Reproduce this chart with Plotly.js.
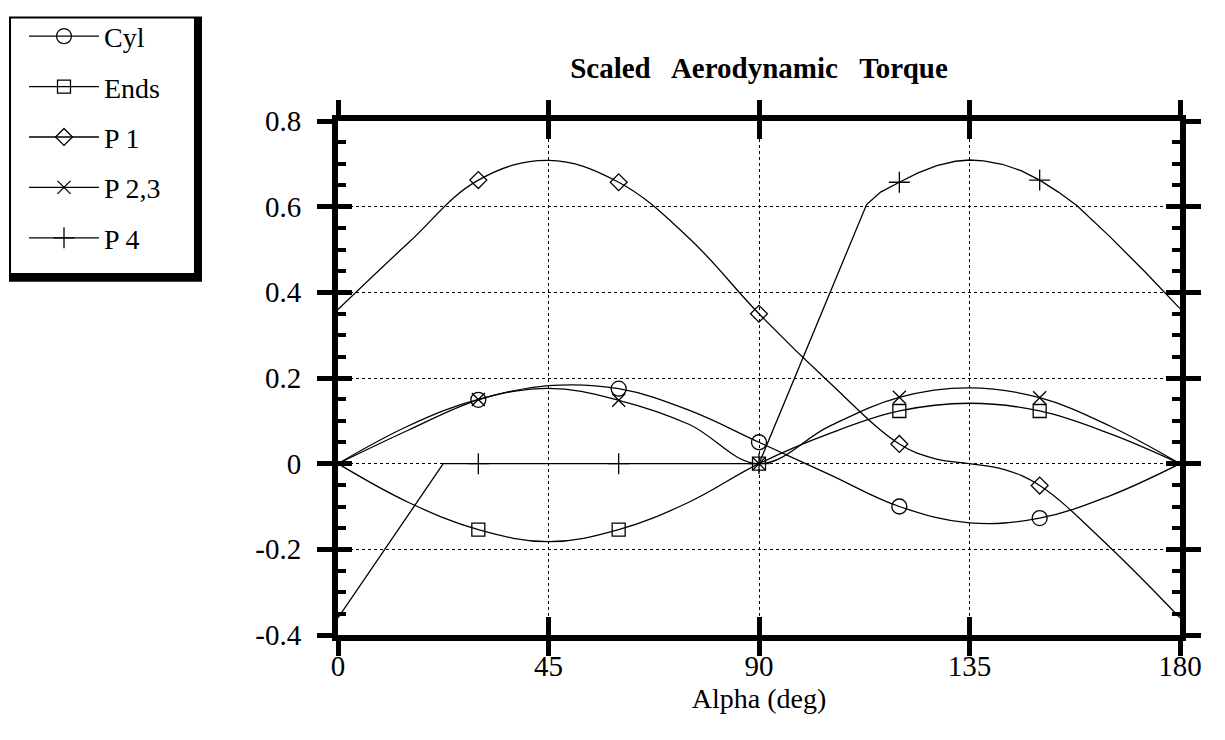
<!DOCTYPE html>
<html><head><meta charset="utf-8">
<script src="https://cdn.plot.ly/plotly-3.0.1.min.js"></script>
<style>html,body{margin:0;padding:0;background:#fff}</style>
</head><body><div id="chart" style="width:1225px;height:740px"></div>
<script>
// ---- data ----
const alphaStd = [0, 15, 30, 45, 60, 75, 90, 105, 120, 135, 150, 165, 180];
const cyl  = [0, 0.078, 0.149, 0.182, 0.175, 0.125, 0.05, -0.025, -0.100, -0.138, -0.127, -0.075, 0];
const ends = [0, -0.09, -0.154, -0.182, -0.154, -0.09, 0, 0.07, 0.123, 0.141, 0.123, 0.07, 0];
const p23  = [0, 0.088, 0.150, 0.176, 0.148, 0.092, 0, 0.087, 0.155, 0.177, 0.154, 0.088, 0];
const alphaP1 = [0, 15, 30, 45, 60, 75, 90, 105, 120, 127.5, 135, 142.5, 150, 165, 180];
const p1   = [0.36, 0.515, 0.662, 0.708, 0.657, 0.527, 0.35, 0.19, 0.046, 0.012, 0, -0.014, -0.051, -0.195, -0.36];
const alphaP4 = [0, 22.5, 30, 60, 90, 113, 116, 120, 124, 128, 132, 135, 138, 142, 146, 150, 154, 158, 165, 172.5, 180];
const p4   = [-0.36, 0, 0, 0, 0, 0.605, 0.634, 0.657, 0.679, 0.696, 0.706, 0.709, 0.707, 0.699, 0.684, 0.662, 0.634, 0.602, 0.53, 0.448, 0.362];
const seriesNames = ['Cyl', 'Ends', 'P 1', 'P 2,3', 'P 4'];
const xTicks = [0, 45, 90, 135, 180];
const yTicks = [-0.4, -0.2, 0, 0.2, 0.4, 0.6, 0.8];
const yTickText = ['-0.4', '-0.2', '0', '0.2', '0.4', '0.6', '0.8'];
const yMinorStep = 0.05;

// ---- layout geometry ----
const W = 1225, H = 740;
const M = {l: 338, r: 45, t: 114, b: 105};
const pw = W - M.l - M.r, ph = H - M.t - M.b;
const px2x = px => (px - M.l) / pw;
const py2y = py => (H - M.b - py) / ph;
const FONT = 'Liberation Serif, Times New Roman, serif';

// marker only at every 30 deg (excluding the ends)
const markIdx = xs => xs.map((a, i) => (a % 30 === 0 && a > 0 && a < 180) ? i : -1).filter(i => i >= 0);

function mk(name, xs, ys, symbol, size, shape) {
  return {
    type: 'scatter', mode: 'lines+markers', name: name, x: xs, y: ys,
    legendgroup: name,
    line: {color: '#000', width: 1.3, shape: shape, smoothing: 1.1},
    marker: {symbol: symbol, size: size, color: '#000', line: {color: '#000', width: 1.3}},
    selectedpoints: markIdx(xs),
    selected: {marker: {opacity: 1}},
    unselected: {marker: {opacity: 0}},
    hoverinfo: 'x+y+name'
  };
}

// empty helper traces so the overlay tick axes get drawn
const axisHolder = (xa, ya) => ({type: 'scatter', mode: 'lines', x: [null], y: [null],
  xaxis: xa, yaxis: ya, showlegend: false, hoverinfo: 'skip'});

const traces = [
  mk(seriesNames[0], alphaStd, cyl, 'circle-open', 15, 'spline'),
  mk(seriesNames[1], alphaStd, ends, 'square-open', 13, 'spline'),
  mk(seriesNames[2], alphaP1, p1, 'diamond-open', 13, 'spline'),
  mk(seriesNames[3], alphaStd, p23, 'x-thin-open', 13, 'spline'),
  mk(seriesNames[4], alphaP4, p4, 'cross-thin-open', 15, 'linear'),
  axisHolder('x2', 'y2'),
  axisHolder('x2', 'y3')
];

const layout = {
  width: W, height: H,
  margin: M,
  paper_bgcolor: '#fff', plot_bgcolor: '#fff',
  font: {family: FONT, size: 28, color: '#000'},
  title: {
    text: 'Scaled\u00a0\u00a0 Aerodynamic\u00a0\u00a0 Torque',
    font: {family: FONT, size: 29, weight: 'bold', color: '#000'},
    x: 0.5, xref: 'paper', xanchor: 'center',
    y: 1 - 68 / H, yref: 'container', yanchor: 'middle'
  },
  showlegend: true,
  legend: {
    x: px2x(24), xanchor: 'left', y: py2y(3), yanchor: 'top',
    bgcolor: 'rgba(0,0,0,0)', borderwidth: 0,
    font: {family: FONT, size: 28, color: '#000'},
    itemwidth: 70, tracegroupgap: 11, traceorder: 'grouped'
  },
  xaxis: {
    range: [0, 180], tickmode: 'array', tickvals: xTicks,
    ticks: 'outside', ticklen: 15, tickwidth: 5, tickcolor: '#000',
    showline: true, linewidth: 6, linecolor: '#000', mirror: 'ticks',
    showgrid: true, gridcolor: '#000', gridwidth: 1, griddash: 'dot',
    zeroline: false, ticklabelstandoff: -15,
    tickfont: {family: FONT, size: 29, color: '#000'},
    title: {text: 'Alpha (deg)', font: {family: FONT, size: 28, color: '#000'}, standoff: 10}
  },
  xaxis2: {
    overlaying: 'x', anchor: 'y', side: 'bottom', range: [0, 180],
    tickmode: 'array', tickvals: xTicks,
    ticks: 'inside', ticklen: 18, tickwidth: 5, tickcolor: '#000',
    mirror: 'ticks', showline: false, showgrid: false, zeroline: false, showticklabels: false
  },
  yaxis: {
    range: [-0.4, 0.8], tickmode: 'array', tickvals: yTicks, ticktext: yTickText,
    ticks: 'outside', ticklen: 15, tickwidth: 5, tickcolor: '#000',
    showline: true, linewidth: 6, linecolor: '#000', mirror: 'ticks',
    showgrid: true, gridcolor: '#000', gridwidth: 1, griddash: 'dot',
    zeroline: false, ticklabelstandoff: 10,
    tickfont: {family: FONT, size: 29, color: '#000'}
  },
  yaxis2: {
    overlaying: 'y', anchor: 'x', side: 'left', range: [-0.4, 0.8],
    tickmode: 'array', tickvals: yTicks,
    ticks: 'inside', ticklen: 14, tickwidth: 5, tickcolor: '#000',
    mirror: 'ticks', showline: false, showgrid: false, zeroline: false, showticklabels: false
  },
  yaxis3: {
    overlaying: 'y', anchor: 'x', side: 'left', range: [-0.4, 0.8],
    tickmode: 'linear', tick0: 0, dtick: yMinorStep,
    ticks: 'inside', ticklen: 8, tickwidth: 4, tickcolor: '#000',
    mirror: 'ticks', showline: false, showgrid: false, zeroline: false, showticklabels: false
  },
  shapes: [
    {type: 'rect', xref: 'paper', yref: 'paper', layer: 'below',
     x0: px2x(9), x1: px2x(202), y0: py2y(277), y1: py2y(8),
     fillcolor: '#000', line: {width: 0}},
    {type: 'rect', xref: 'paper', yref: 'paper', layer: 'below',
     x0: px2x(11), x1: px2x(194), y0: py2y(268), y1: py2y(10),
     fillcolor: '#fff', line: {width: 0}}
  ]
};

Plotly.newPlot('chart', traces, layout, {displayModeBar: false, staticPlot: true});
</script></body></html>
